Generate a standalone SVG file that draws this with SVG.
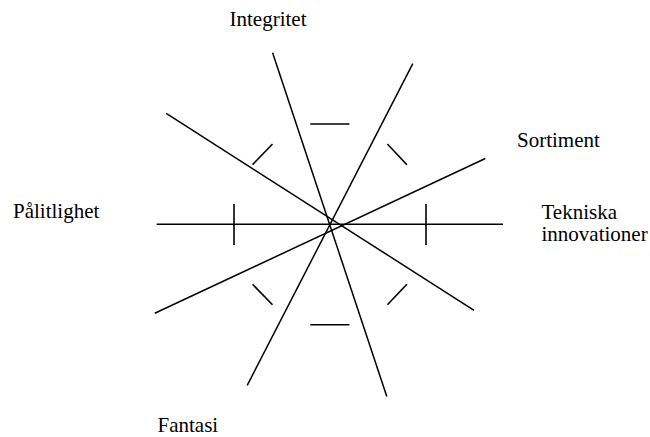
<svg xmlns="http://www.w3.org/2000/svg" width="650" height="437" viewBox="0 0 650 437">
<style>
  .ax { stroke: #000; stroke-width: 1.5; fill: none; stroke-linecap: butt; }
  .tk { stroke: #000; stroke-width: 1.6; fill: none; }
  .lbl { font-family: "Liberation Serif", "Times New Roman", serif; font-size: 21px; fill: #000; }
</style>
<rect width="650" height="437" fill="#fff"/>
<g id="connectors">
  <line class="ax" x1="156.7" y1="224.3" x2="503" y2="224.3"/>
  <line class="ax" x1="272.6" y1="52.8" x2="386.8" y2="396.5"/>
  <line class="ax" x1="412.8" y1="63.6" x2="247.2" y2="385.4"/>
  <line class="ax" x1="166.2" y1="113.3" x2="474" y2="310.4"/>
  <line class="ax" x1="485.3" y1="158.5" x2="154.8" y2="313.3"/>
</g>
<g id="ticks">
  <line class="tk" x1="234" y1="204" x2="234" y2="245"/>
  <line class="tk" x1="426" y1="204" x2="426" y2="245"/>
  <line class="tk" x1="310.3" y1="124" x2="349.4" y2="124"/>
  <line class="tk" x1="310.3" y1="324.7" x2="349.4" y2="324.7"/>
  <line class="tk" x1="252.6" y1="164.6" x2="272.5" y2="144"/>
  <line class="tk" x1="387.4" y1="144" x2="406.9" y2="164.7"/>
  <line class="tk" x1="252.6" y1="284.3" x2="272.5" y2="304.7"/>
  <line class="tk" x1="387.4" y1="304.7" x2="406.9" y2="284.3"/>
</g>
<g id="integritet"><text class="lbl" x="229.5" y="26">Integritet</text></g>
<g id="sortiment"><text class="lbl" x="517" y="146.5">Sortiment</text></g>
<g id="tekniska"><text class="lbl" x="541.5" y="219">Tekniska</text><text class="lbl" x="541.5" y="241">innovationer</text></g>
<g id="palitlighet"><text class="lbl" x="13" y="217.5">Pålitlighet</text></g>
<g id="fantasi"><text class="lbl" x="157.5" y="432">Fantasi</text></g>
</svg>
